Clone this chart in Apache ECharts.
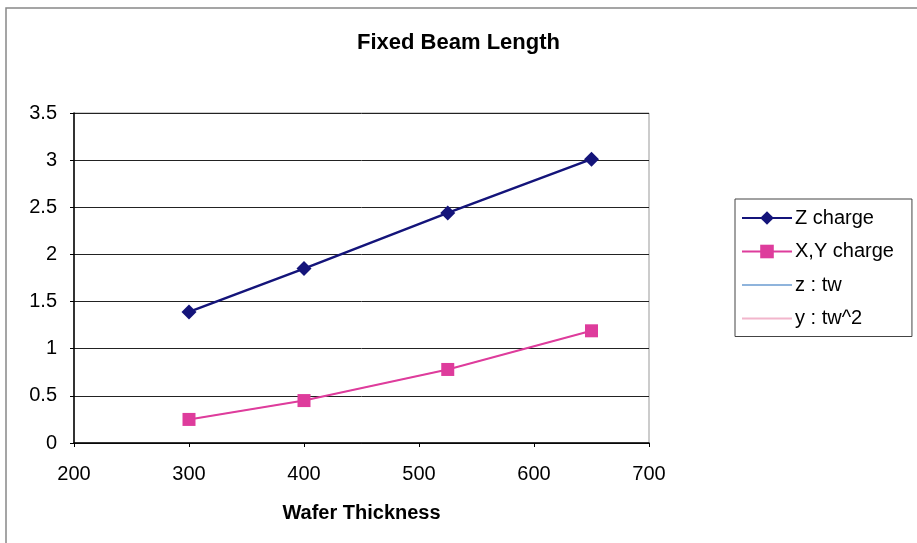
<!DOCTYPE html>
<html>
<head>
<meta charset="utf-8">
<script src="https://cdn.jsdelivr.net/npm/echarts@6/dist/echarts.min.js"></script>
<style>
html,body{margin:0;padding:0;background:#fff;}
#chart{width:917px;height:543px;}
</style>
</head>
<body>
<div id="chart"></div>
<script>
var thickness = [300, 400, 525, 650];
var zCharge = [1.39, 1.85, 2.44, 3.01];
var xyCharge = [0.25, 0.45, 0.78, 1.19];
var zTrend = [1.39, 1.85, 2.44, 3.01];
var yTrend = [0.25, 0.45, 0.78, 1.19];
var seriesNames = ['Z charge', 'X,Y charge', 'z : tw', 'y : tw^2'];

function pairs(xs, ys) { return xs.map(function (x, i) { return [x, ys[i]]; }); }

var chart = echarts.init(document.getElementById('chart'), null, {renderer: 'canvas'});
var font = 'Liberation Sans, Arial, sans-serif';
chart.setOption({
  animation: false,
  backgroundColor: '#fff',
  textStyle: {fontFamily: font},
  title: {
    text: 'Fixed Beam Length',
    left: 'center',
    top: 27,
    textStyle: {fontFamily: font, fontWeight: 'bold', fontSize: 22, color: '#000'}
  },
  graphic: [{
    type: 'rect',
    shape: {x: 6, y: 8, width: 930, height: 560},
    style: {fill: 'none', stroke: '#888', lineWidth: 1.5},
    silent: true
  }],
  grid: {
    left: 74, top: 113, width: 575, height: 330,
    show: true, borderColor: '#999', borderWidth: 1, backgroundColor: 'transparent'
  },
  legend: {
    orient: 'vertical',
    left: 735, top: 199,
    data: [
      {name: seriesNames[0]},
      {name: seriesNames[1]},
      {name: seriesNames[2], itemStyle: {opacity: 0}},
      {name: seriesNames[3], itemStyle: {opacity: 0}}
    ],
    itemWidth: 50, itemHeight: 17, itemGap: 13.5,
    borderColor: '#444', borderWidth: 1,
    padding: [9, 18, 8, 6],
    textStyle: {fontFamily: font, fontSize: 20, color: '#000', padding: [0, 0, 0, -2]}
  },
  xAxis: {
    type: 'value', min: 200, max: 700, interval: 100,
    name: 'Wafer Thickness', nameLocation: 'middle', nameGap: 60,
    nameTextStyle: {fontFamily: font, fontWeight: 'bold', fontSize: 20, color: '#000'},
    axisLine: {show: true, onZero: false, lineStyle: {color: '#000', width: 1.5}},
    axisTick: {show: true, length: 4, lineStyle: {color: '#000'}},
    axisLabel: {fontFamily: font, fontSize: 20, color: '#000', margin: 21},
    splitLine: {show: false}
  },
  yAxis: {
    type: 'value', min: 0, max: 3.5, interval: 0.5,
    axisLine: {show: true, lineStyle: {color: '#000', width: 1.5}},
    axisTick: {show: true, length: 4, lineStyle: {color: '#000'}},
    axisLabel: {fontFamily: font, fontSize: 20, color: '#000', margin: 17},
    splitLine: {show: true, lineStyle: {color: '#222', width: 1}}
  },
  series: [
    {
      name: 'z : tw', type: 'line', data: pairs(thickness, zTrend),
      symbol: 'none', lineStyle: {color: '#8fb4dc', width: 1}, itemStyle: {color: '#8fb4dc'}, z: 1
    },
    {
      name: 'y : tw^2', type: 'line', data: pairs(thickness, yTrend),
      symbol: 'none', lineStyle: {color: '#f2b6cc', width: 1}, itemStyle: {color: '#f2b6cc'}, z: 1
    },
    {
      name: 'Z charge', type: 'line', data: pairs(thickness, zCharge),
      symbol: 'diamond', symbolSize: 15,
      lineStyle: {color: '#14147a', width: 2.5}, itemStyle: {color: '#14147a'}, z: 3
    },
    {
      name: 'X,Y charge', type: 'line', data: pairs(thickness, xyCharge),
      symbol: 'rect', symbolSize: 13,
      lineStyle: {color: '#de3c9c', width: 2}, itemStyle: {color: '#de3c9c'}, z: 2
    }
  ]
});
</script>
</body>
</html>
